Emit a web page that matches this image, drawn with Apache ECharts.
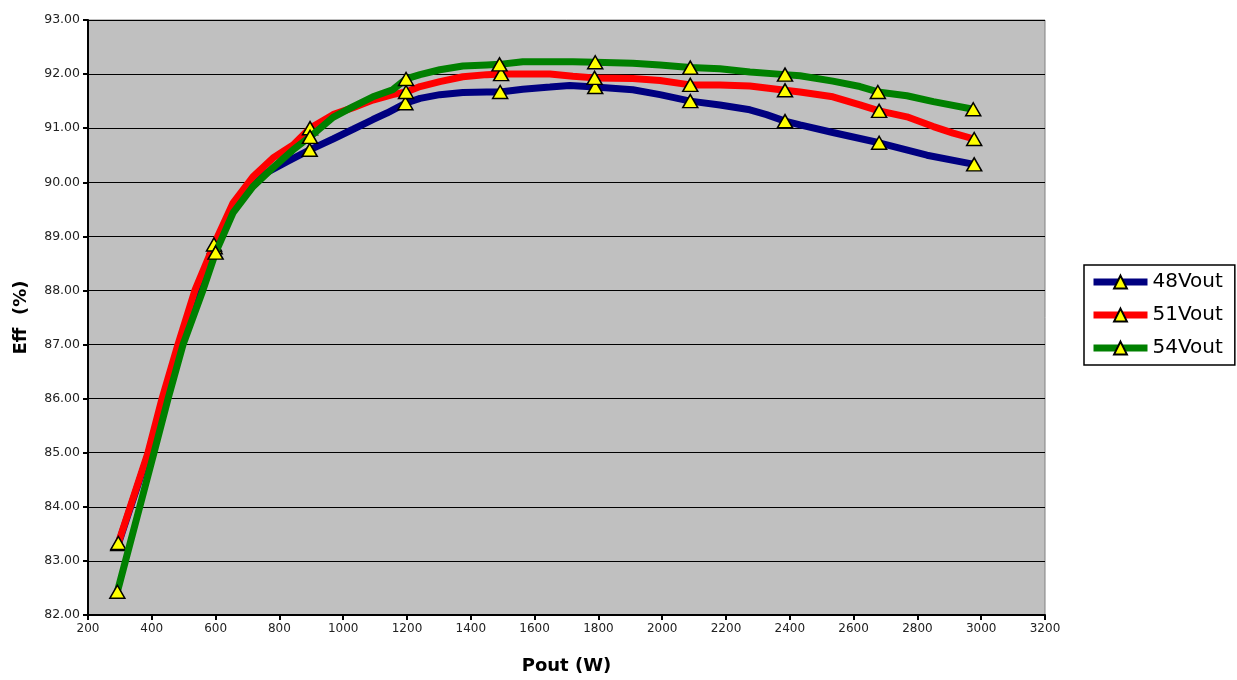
<!DOCTYPE html>
<html>
<head>
<meta charset="utf-8">
<script src="https://cdn.jsdelivr.net/npm/echarts@6/dist/echarts.min.js"></script>
<style>html,body{margin:0;padding:0;background:#fff}#c{width:1237px;height:680px}</style>
</head>
<body>
<div id="c"></div>
<script>
var seriesNames = ['48Vout', '51Vout', '54Vout'];
var pout48 = [295, 390, 435, 485, 540, 597, 655, 717, 761, 824, 895, 968, 1031, 1093, 1137, 1195, 1241, 1303, 1375, 1450, 1492, 1563, 1648, 1710, 1790, 1908, 1993, 2088, 2181, 2275, 2327, 2385, 2432, 2535, 2680, 2830, 2978];
var eff48 = [83.31, 85.0, 86.0, 87.0, 88.0, 88.8, 89.5, 89.93, 90.18, 90.38, 90.6, 90.8, 90.98, 91.16, 91.28, 91.46, 91.55, 91.62, 91.66, 91.67, 91.67, 91.72, 91.76, 91.79, 91.76, 91.71, 91.62, 91.5, 91.43, 91.34, 91.25, 91.13, 91.06, 90.92, 90.73, 90.5, 90.33];
var mark48 = [295, 597, 895, 1195, 1492, 1790, 2088, 2385, 2680, 2978];

var pout51 = [295, 388, 432, 482, 535, 595, 655, 717, 780, 843, 896, 968, 1031, 1093, 1155, 1197, 1241, 1303, 1375, 1450, 1495, 1563, 1648, 1720, 1788, 1908, 1993, 2088, 2181, 2275, 2385, 2432, 2535, 2620, 2680, 2767, 2850, 2912, 2978];
var eff51 = [83.33, 85.0, 86.0, 87.0, 88.0, 88.85, 89.62, 90.1, 90.45, 90.69, 91.0, 91.25, 91.38, 91.52, 91.62, 91.67, 91.77, 91.86, 91.95, 91.99, 92.0, 92.0, 92.0, 91.96, 91.93, 91.92, 91.88, 91.8, 91.8, 91.78, 91.7, 91.67, 91.58, 91.43, 91.32, 91.21, 91.03, 90.91, 90.8];
var mark51 = [295, 595, 896, 1197, 1495, 1788, 2088, 2385, 2680, 2978];

var pout54 = [292, 407, 451, 498, 560, 600, 655, 717, 780, 843, 896, 968, 1031, 1093, 1155, 1197, 1241, 1303, 1375, 1450, 1490, 1563, 1648, 1720, 1790, 1908, 1993, 2088, 2181, 2275, 2385, 2432, 2535, 2620, 2676, 2767, 2850, 2975];
var eff54 = [82.43, 85.0, 86.0, 87.0, 88.0, 88.7, 89.44, 89.92, 90.27, 90.6, 90.84, 91.2, 91.4, 91.58, 91.71, 91.91, 91.99, 92.08, 92.15, 92.17, 92.18, 92.23, 92.23, 92.23, 92.22, 92.2, 92.17, 92.12, 92.1, 92.04, 91.99, 91.97, 91.87, 91.77, 91.67, 91.6, 91.49, 91.35];
var mark54 = [292, 600, 896, 1197, 1490, 1790, 2088, 2385, 2676, 2975];

var lineColors = ['#000080', '#ff0000', '#008000'];
var FONT = 'DejaVu Sans';

function build(xs, ys, marks) {
  return xs.map(function (x, i) {
    var item = { value: [x, ys[i]] };
    if (marks.indexOf(x) < 0) item.symbol = 'none';
    return item;
  });
}
var datasets = [build(pout48, eff48, mark48), build(pout51, eff51, mark51), build(pout54, eff54, mark54)];

var chart = echarts.init(document.getElementById('c'), null, { renderer: 'canvas' });
chart.setOption({
  animation: false,
  backgroundColor: '#ffffff',
  grid: {
    left: 88, top: 20, right: 192, bottom: 64,
    show: true, backgroundColor: '#c0c0c0', borderColor: '#808080', borderWidth: 1
  },
  xAxis: {
    type: 'value', min: 200, max: 3200, interval: 200,
    name: 'Pout (W)', nameLocation: 'middle', nameGap: 42,
    nameTextStyle: { fontFamily: FONT, fontSize: 18, fontWeight: 'bold', color: '#000' },
    axisLine: { show: true, lineStyle: { color: '#000', width: 2 } },
    axisTick: { show: true, length: 5, lineStyle: { color: '#000', width: 2 } },
    axisLabel: { fontFamily: FONT, fontSize: 12, color: '#222', margin: 8,
      formatter: function (v) { return String(v); } },
    splitLine: { show: false }
  },
  yAxis: {
    type: 'value', min: 82, max: 93, interval: 1,
    name: 'Eff  (%)', nameLocation: 'middle', nameGap: 58, nameRotate: 90,
    nameTextStyle: { fontFamily: FONT, fontSize: 18, fontWeight: 'bold', color: '#000' },
    axisLine: { show: true, lineStyle: { color: '#000', width: 2 } },
    axisTick: { show: true, length: 5, lineStyle: { color: '#000', width: 2 } },
    axisLabel: { fontFamily: FONT, fontSize: 12.5, color: '#222', margin: 8,
      formatter: function (v) { return v.toFixed(2); } },
    splitLine: { show: true, lineStyle: { color: '#000', width: 1.2 } }
  },
  legend: {
    orient: 'vertical', left: 1084, top: 265,
    itemWidth: 54, itemHeight: 16, itemGap: 13,
    padding: [7, 12, 7, 6],
    borderColor: '#000', borderWidth: 1.5, backgroundColor: '#fff',
    lineStyle: { width: 7 },
    textStyle: { fontFamily: FONT, fontSize: 20, color: '#000' },
    data: seriesNames
  },
  series: seriesNames.map(function (n, i) {
    return {
      name: n, type: 'line', data: datasets[i],
      symbol: 'triangle', symbolSize: [15, 13], showSymbol: true,
      lineStyle: { color: lineColors[i], width: 7 },
      itemStyle: { color: '#ffff00', borderColor: '#000', borderWidth: 1.5 },
      emphasis: { disabled: true },
      z: 2 + i
    };
  })
});
</script>
</body>
</html>
